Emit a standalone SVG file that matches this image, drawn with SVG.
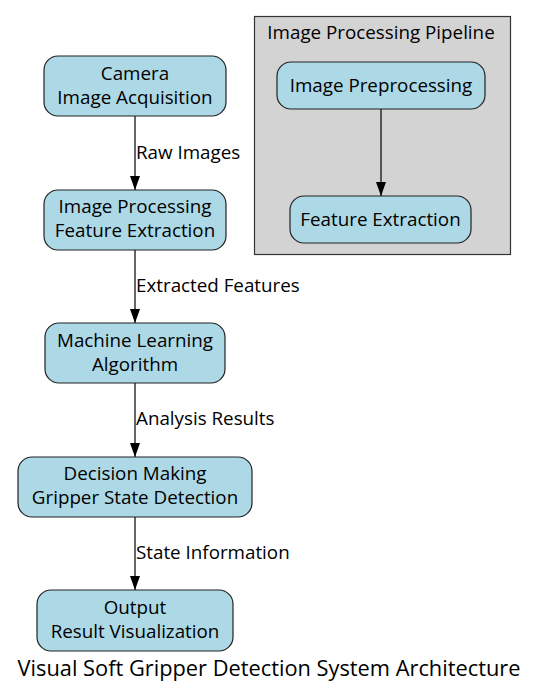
<svg xmlns="http://www.w3.org/2000/svg" width="539" height="696" viewBox="0 0 539 696">
<style>
.node rect{fill:#add8e6;stroke:#222;stroke-width:1.2}
text{font-family:"Open Sans","Noto Sans",sans-serif;font-size:18.8px;fill:#000}
.c{text-anchor:middle}
.edge line{stroke:#000;stroke-width:1.2}
</style>
<defs>
<marker id="ah" markerWidth="14" markerHeight="10" refX="14" refY="5" orient="auto" markerUnits="userSpaceOnUse">
<path d="M0,0 L14,5 L0,10 Z" fill="#000"/>
</marker>
</defs>
<rect width="539" height="696" fill="#fff"/>
<g id="cluster">
<rect x="254.5" y="16.5" width="256" height="238" fill="#d3d3d3" stroke="#333" stroke-width="1.2"/>
<text class="c" x="381" y="39">Image Processing Pipeline</text>
</g>
<g class="edge" id="edges">
<line x1="135" y1="116" x2="135" y2="190" marker-end="url(#ah)"/>
<text x="136" y="159">Raw Images</text>
<line x1="135" y1="250" x2="135" y2="323" marker-end="url(#ah)"/>
<text x="136" y="292">Extracted Features</text>
<line x1="135" y1="383" x2="135" y2="457" marker-end="url(#ah)"/>
<text x="136" y="425">Analysis Results</text>
<line x1="135" y1="517" x2="135" y2="590" marker-end="url(#ah)"/>
<text x="136" y="559">State Information</text>
<line x1="381" y1="109" x2="381" y2="196" marker-end="url(#ah)"/>
</g>
<g class="node" id="camera">
<rect x="44" y="56" width="182" height="60" rx="14"/>
<text class="c" x="135" y="80">Camera</text>
<text class="c" x="135" y="104">Image Acquisition</text>
</g>
<g class="node" id="processing">
<rect x="44" y="190" width="182" height="60" rx="14"/>
<text class="c" x="135" y="213">Image Processing</text>
<text class="c" x="135" y="237">Feature Extraction</text>
</g>
<g class="node" id="ml">
<rect x="45" y="323" width="180" height="60" rx="14"/>
<text class="c" x="135" y="347">Machine Learning</text>
<text class="c" x="135" y="371">Algorithm</text>
</g>
<g class="node" id="decision">
<rect x="18" y="457" width="234" height="60" rx="14"/>
<text class="c" x="135" y="480">Decision Making</text>
<text class="c" x="135" y="504">Gripper State Detection</text>
</g>
<g class="node" id="output">
<rect x="37" y="590" width="196" height="61" rx="14"/>
<text class="c" x="135" y="614">Output</text>
<text class="c" x="135" y="638">Result Visualization</text>
</g>
<g class="node" id="preprocessing">
<rect x="277" y="62" width="208" height="47" rx="14"/>
<text class="c" x="381" y="92">Image Preprocessing</text>
</g>
<g class="node" id="featureextraction">
<rect x="290" y="196" width="181" height="47" rx="14"/>
<text class="c" x="380.5" y="226">Feature Extraction</text>
</g>
<text class="c" x="269" y="676" style="font-size:21.8px">Visual Soft Gripper Detection System Architecture</text>
</svg>
